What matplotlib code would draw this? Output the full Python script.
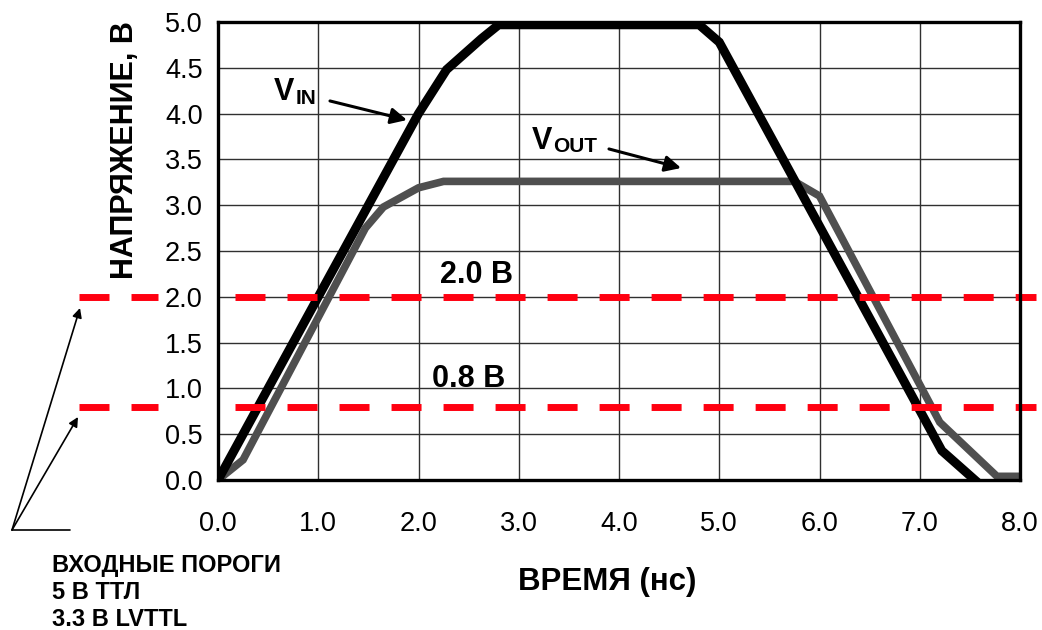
import matplotlib
matplotlib.use("Agg")
import matplotlib.pyplot as plt

plt.rcParams['font.family'] = ['Liberation Sans', 'DejaVu Sans']

# ---- data ----
t_in = [0.0, 2.0, 2.28, 2.63, 2.8, 4.8, 5.0, 7.22, 7.55]
v_in = [0.0, 4.0, 4.48, 4.82, 4.97, 4.97, 4.78, 0.32, 0.0]

t_out = [0.0, 0.25, 1.47, 1.65, 2.0, 2.25, 5.75, 6.0, 7.2, 7.77, 8.0]
v_out = [0.0, 0.22, 2.75, 2.98, 3.19, 3.26, 3.26, 3.1, 0.63, 0.04, 0.04]

thresholds = [2.0, 0.8]
threshold_labels = ['2.0 В', '0.8 В']

x_ticks = [0, 1, 2, 3, 4, 5, 6, 7, 8]
x_ticklabels = ['0.0', '1.0', '2.0', '3.0', '4.0', '5.0', '6.0', '7.0', '8.0']
y_ticks = [0.0, 0.5, 1.0, 1.5, 2.0, 2.5, 3.0, 3.5, 4.0, 4.5, 5.0]
y_ticklabels = ['0.0', '0.5', '1.0', '1.5', '2.0', '2.5', '3.0', '3.5', '4.0', '4.5', '5.0']

note_lines = ['ВХОДНЫЕ ПОРОГИ', '5 В ТТЛ', '3.3 В LVTTL']

# ---- figure ----
W, H = 1042, 630
fig = plt.figure(figsize=(W / 100, H / 100), dpi=100)
ax = fig.add_axes([218 / W, 1 - 480 / H, 802 / W, 458 / H])
ax.set_xlim(0, 8)
ax.set_ylim(0, 5)

ax.set_xticks(x_ticks)
ax.set_xticklabels(x_ticklabels)
ax.set_yticks(y_ticks)
ax.set_yticklabels(y_ticklabels)
ax.tick_params(axis='both', length=0)
ax.tick_params(axis='x', labelsize=19.5, pad=22)
ax.tick_params(axis='y', labelsize=19.5, pad=11)

ax.grid(True, color='#303030', lw=1.0)
ax.set_axisbelow(True)
for s in ax.spines.values():
    s.set_linewidth(2.4)
    s.set_color('black')
    s.set_zorder(6)

# curves
ax.plot(t_out, v_out, color='#4f4f4f', lw=5.5, zorder=3, solid_joinstyle='miter')
ax.plot(t_in, v_in, color='black', lw=6.5, zorder=4, solid_joinstyle='miter')

# threshold lines
red = '#ff0010'
dash = (0, (4.32, 3.17))
for th in thresholds:
    ax.plot([0.17, 8.16], [th, th], color=red, lw=5, linestyle=dash,
            clip_on=False, zorder=5)
    ax.plot([-1.387, -0.6], [th, th], color=red, lw=5, linestyle=dash,
            clip_on=False, zorder=5)

ax.text(2.214, 2.15, threshold_labels[0], fontsize=22, fontweight='bold',
        ha='left', va='baseline', zorder=7)
ax.text(2.135, 1.015, threshold_labels[1], fontsize=22, fontweight='bold',
        ha='left', va='baseline', zorder=7)

# V_IN / V_OUT labels
ax.text(0.559, 4.148, 'V', fontsize=22, fontweight='bold', ha='left', va='baseline')
ax.text(0.772, 4.105, 'IN', fontsize=15, fontweight='bold', ha='left', va='baseline')
ax.text(3.132, 3.614, 'V', fontsize=22, fontweight='bold', ha='left', va='baseline')
ax.text(3.346, 3.58, 'OUT', fontsize=15, fontweight='bold', ha='left', va='baseline')

arrow_kw = dict(arrowstyle='-|>', color='black', lw=2.2, mutation_scale=24,
                shrinkA=0, shrinkB=0)
ax.annotate('', xy=(1.885, 3.93), xytext=(1.117, 4.138), arrowprops=arrow_kw, zorder=7)
ax.annotate('', xy=(4.619, 3.406), xytext=(3.9, 3.614), arrowprops=arrow_kw, zorder=7)

# axis labels
ax.set_xlabel('ВРЕМЯ (нс)', fontsize=22.5, fontweight='bold')
ax.xaxis.set_label_coords(0.485, -0.19)
ax.xaxis.label.set_va('top')
ax.set_ylabel('НАПРЯЖЕНИЕ, В', fontsize=22, fontweight='bold')
ax.yaxis.set_label_coords(-0.097, 0.7205)

# bottom-left note
baselines = [572, 599, 626]
for line, b in zip(note_lines, baselines):
    fig.text(52 / W, 1 - b / H, line, fontsize=17, fontweight='bold',
             ha='left', va='baseline')

# left arrows (figure pixels, origin bottom-left)
small_arrow = dict(arrowstyle='-|>', color='black', lw=1.2, mutation_scale=14,
                   shrinkA=0, shrinkB=0)
fig_ann_start = (12, H - 530)
ax.annotate('', xy=(80, H - 308), xycoords='figure pixels',
            xytext=fig_ann_start, textcoords='figure pixels', arrowprops=small_arrow)
ax.annotate('', xy=(78, H - 417), xycoords='figure pixels',
            xytext=fig_ann_start, textcoords='figure pixels', arrowprops=small_arrow)
ax.annotate('', xy=(70, H - 530), xycoords='figure pixels',
            xytext=fig_ann_start, textcoords='figure pixels',
            arrowprops=dict(arrowstyle='-', color='black', lw=1.2, shrinkA=0, shrinkB=0))

fig.savefig('out.png', dpi=100)
